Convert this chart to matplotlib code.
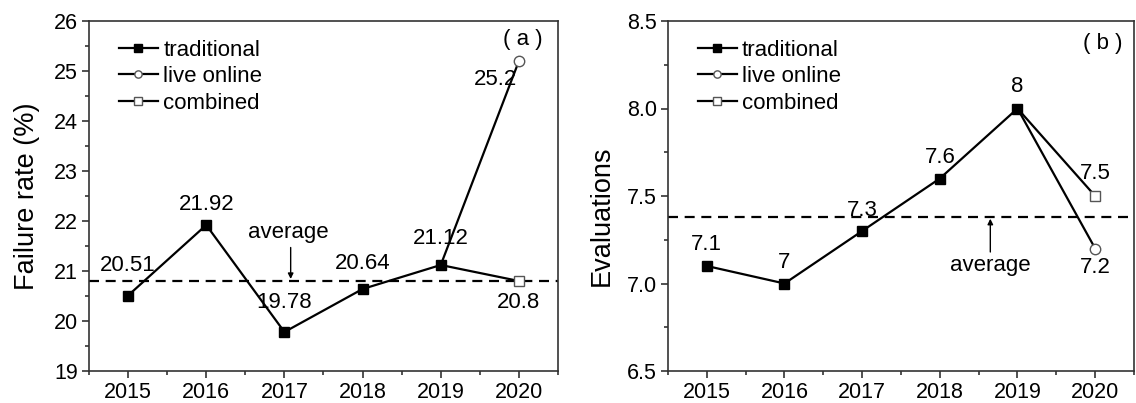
import matplotlib
matplotlib.use("Agg")
import matplotlib.pyplot as plt
from matplotlib.ticker import MultipleLocator

plt.rcParams['font.family'] = ['Liberation Sans', 'DejaVu Sans']

# ---- data ----
years = [2015, 2016, 2017, 2018, 2019, 2020]

# (a) failure rate, %
fail_traditional = [20.51, 21.92, 19.78, 20.64, 21.12]
fail_live_online = 25.2
fail_combined = 20.8
fail_average = 20.8

# (b) evaluations
eval_traditional = [7.1, 7.0, 7.3, 7.6, 8.0]
eval_live_online = 7.2
eval_combined = 7.5
eval_average = 7.38

series_names = ["traditional", "live online", "combined"]

W, H = 1136, 403
fig = plt.figure(figsize=(W / 100, H / 100), dpi=100)
ax_a = fig.add_axes([89 / W, 32 / H, 469 / W, 350 / H])
ax_b = fig.add_axes([668 / W, 32 / H, 466 / W, 350 / H])

LW = 1.6
MS = 7.5
TICK_FS = 15.5
ANN_FS = 16
OPEN_EDGE = '#555555'


def draw_panel(ax, trad, live, comb, avg, ylim, major, minor, ylabel,
               trad_offsets, live_offset, comb_offset, avg_text_xy, arrow_from, arrow_to, tag, tag_xy):
    yrs = years[:len(trad)]
    last = years[-1]
    h1, = ax.plot(yrs, trad, color='black', lw=LW, marker='s', ms=MS,
                  mfc='black', mec='black', zorder=3)
    h2, = ax.plot([yrs[-1], last], [trad[-1], live], color='black', lw=LW,
                  marker='o', ms=MS, mfc='white', mec=OPEN_EDGE, mew=1.0,
                  markevery=[1], zorder=2)
    h3, = ax.plot([yrs[-1], last], [trad[-1], comb], color='black', lw=LW,
                  marker='s', ms=MS, mfc='white', mec=OPEN_EDGE, mew=1.0,
                  markevery=[1], zorder=2)

    ax.axhline(avg, color='black', lw=LW, dashes=(4.5, 3), zorder=1)

    # value labels
    for x, v, (dx, dy) in zip(yrs, trad, trad_offsets):
        ax.text(x + dx, v + dy, f"{v:g}", ha='center', va='center', fontsize=ANN_FS)
    ax.text(last + live_offset[0], live + live_offset[1], f"{live:g}",
            ha='center', va='center', fontsize=ANN_FS)
    ax.text(last + comb_offset[0], comb + comb_offset[1], f"{comb:g}",
            ha='center', va='center', fontsize=ANN_FS)

    # average marker
    ax.text(avg_text_xy[0], avg_text_xy[1], "average", ha='center', va='center',
            fontsize=ANN_FS)
    ax.annotate("", xy=arrow_to, xytext=arrow_from,
                arrowprops=dict(arrowstyle='-|>', color='black', lw=1.0,
                                mutation_scale=8, shrinkA=0, shrinkB=0))

    ax.text(tag_xy[0], tag_xy[1], tag, ha='center', va='center', fontsize=ANN_FS)

    ax.set_xlim(2014.5, 2020.5)
    ax.set_ylim(*ylim)
    ax.set_xticks(years)
    ax.xaxis.set_minor_locator(MultipleLocator(0.5))
    ax.yaxis.set_major_locator(MultipleLocator(major))
    ax.yaxis.set_minor_locator(MultipleLocator(minor))
    ax.tick_params(which='both', direction='out', top=False, right=False,
                   labelsize=TICK_FS, width=1.2, color='#333333')
    ax.tick_params(which='major', length=5, pad=3)
    ax.tick_params(which='minor', length=3)
    for s in ax.spines.values():
        s.set_linewidth(1.2)
        s.set_color('#333333')
    ax.set_ylabel(ylabel, fontsize=19.5)

    ax.legend([h1, h2, h3], series_names, loc='upper left',
              bbox_to_anchor=(0.035, 0.985), frameon=False, fontsize=16,
              handlelength=1.75, handletextpad=0.25, labelspacing=0.25,
              borderaxespad=0.2, markerscale=0.7)
    return ax


draw_panel(ax_a, fail_traditional, fail_live_online, fail_combined, fail_average,
           (19, 26), 1, 0.5, "Failure rate (%)",
           trad_offsets=[(0, 0.6), (0, 0.4), (0, 0.59), (0, 0.5), (0, 0.52)],
           live_offset=(-0.3, -0.37), comb_offset=(0, -0.43),
           avg_text_xy=(2017.05, 21.77), arrow_from=(2017.08, 21.47),
           arrow_to=(2017.08, 20.84), tag="( a )", tag_xy=(2020.05, 25.62))

draw_panel(ax_b, eval_traditional, eval_live_online, eval_combined, eval_average,
           (6.5, 8.5), 0.5, 0.25, "Evaluations",
           trad_offsets=[(0, 0.125), (0, 0.12), (0, 0.116), (0, 0.12), (0, 0.126)],
           live_offset=(0, -0.108), comb_offset=(0, 0.126),
           avg_text_xy=(2018.65, 7.1), arrow_from=(2018.65, 7.18),
           arrow_to=(2018.65, 7.37), tag="( b )", tag_xy=(2020.1, 8.37))

ax_a.yaxis.set_label_coords(-0.105, 0.5)
ax_b.yaxis.set_label_coords(-0.115, 0.445)

fig.savefig("out.png", dpi=100)
